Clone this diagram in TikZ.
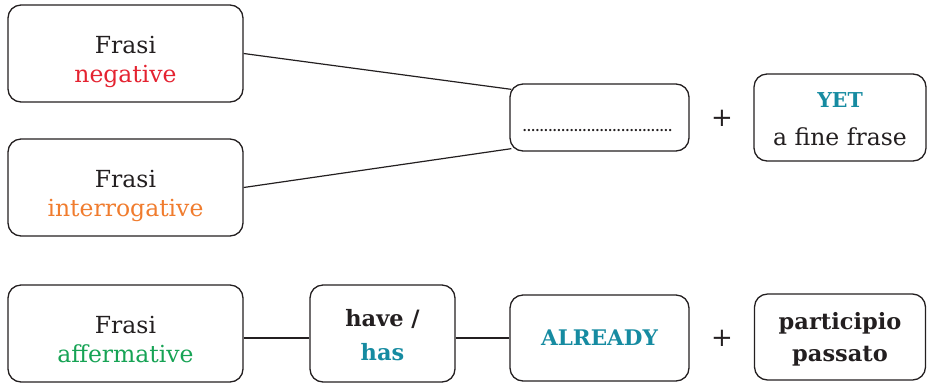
\documentclass[tikz,border=0pt]{standalone}
\usepackage{fontspec}
\setmainfont{DejaVu Serif}
\usetikzlibrary{calc}
\definecolor{negred}{HTML}{E42331}
\definecolor{intorange}{HTML}{F07C2E}
\definecolor{affgreen}{HTML}{17A355}
\definecolor{tealc}{HTML}{168BA1}
\definecolor{ink}{HTML}{231F20}
\begin{document}
\begin{tikzpicture}[x=1pt,y=-1pt,
  box/.style={draw=ink, line width=1.3pt, rounded corners=13pt, inner sep=0pt},
  txt/.style={align=center, inner sep=0pt, text=ink, font=\fontsize{23.5}{29}\selectfont},
  btxt/.style={txt, font=\fontsize{22.5}{29}\selectfont\bfseries},
  conn/.style={draw=ink, line width=1.2pt},
  plus/.style={text=ink, inner sep=0pt, font=\fontsize{26}{26}\selectfont}]
\useasboundingbox (0,0) rectangle (928,384);
% left boxes
\node[box, minimum width=235pt, minimum height=97pt] (neg) at (125.5,53.5) {};
\node[txt] (negt) at ($(neg.center)+(0,8)$) {Frasi\\\textcolor{negred}{negative}};
\node[box, minimum width=235pt, minimum height=97pt] (int) at (125.5,187.5) {};
\node[txt] (intt) at ($(int.center)+(0,8)$) {Frasi\\\textcolor{intorange}{interrogative}};
\node[box, minimum width=235pt, minimum height=97pt] (aff) at (125.5,333.5) {};
\node[txt] (afft) at ($(aff.center)+(0,6)$) {Frasi\\\textcolor{affgreen}{affermative}};
% middle top
\node[box, minimum width=179pt, minimum height=67pt] (dots) at (599.5,117.5) {};
\node[anchor=base, inner sep=0pt, text=ink, font=\fontsize{12.3}{14}\selectfont\bfseries] (dotline) at (597.5,131)
  {...................................};
\node[plus] (plus1) at (722,118) {+};
\node[box, minimum width=172pt, minimum height=87pt] (yet) at (840,117.5) {};
\node[txt] (yett) at ($(yet.center)+(0,2)$)
  {\textbf{\textcolor{tealc}{\fontsize{20.5}{20}\selectfont YET}}\\[9pt]a fine frase};
% bottom row
\node[box, minimum width=145pt, minimum height=97pt] (have) at (382.5,333.5) {};
\node[btxt] (havet) at ($(have.center)+(0,2)$) {have /\\[5pt]\textcolor{tealc}{has}};
\node[box, minimum width=179pt, minimum height=86pt] (already) at (599.5,338) {};
\node[btxt, font=\fontsize{21.5}{21}\selectfont\bfseries, text=tealc] (alreadyt) at (already.center) {ALREADY};
\node[plus] (plus2) at (722,338) {+};
\node[box, minimum width=171pt, minimum height=86pt] (part) at (840,337) {};
\node[btxt] (partt) at ($(part.center)+(0,2)$) {participio\\[3pt]passato};
% connectors
\coordinate (dtop) at ($(dots.north west)+(2,6)$);
\coordinate (dbot) at ($(dots.south west)+(2,-3)$);
\draw[conn] (neg.east) -- (dtop);
\draw[conn] (int.east) -- (dbot);
\draw[conn] ($(aff.east)+(0,4.5)$) -- ($(have.west)+(0,4.5)$);
\draw[conn] ($(have.east)+(0,4.5)$) -- (already.west);
\end{tikzpicture}
\end{document}
